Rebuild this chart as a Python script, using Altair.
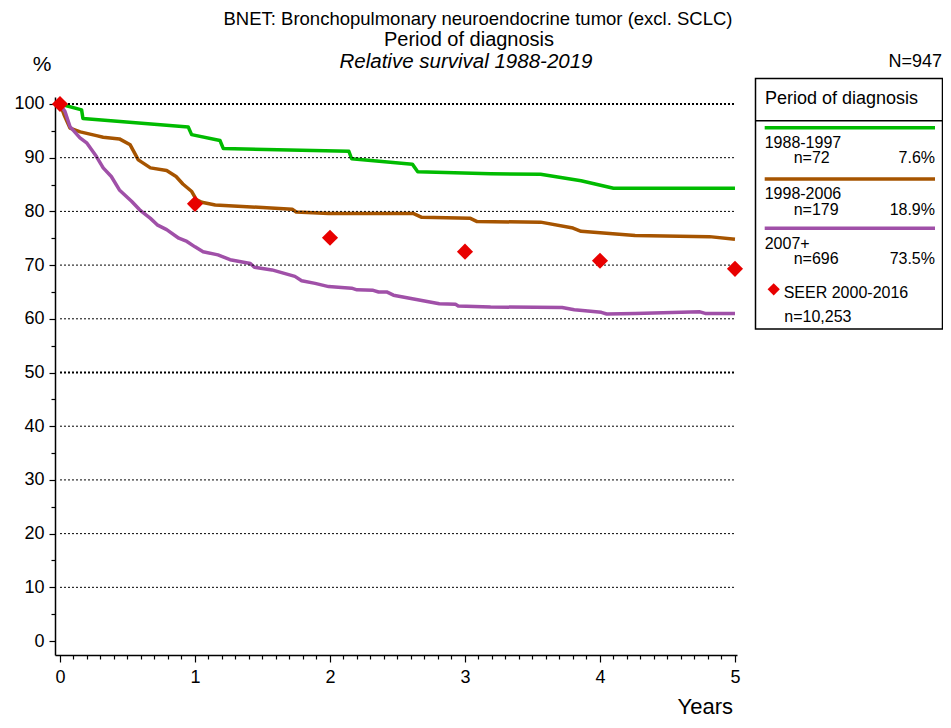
import altair as alt
import pandas as pd

FONT = "Liberation Sans"

# ---- data ----
series_names = ["1988-1997", "1998-2006", "2007+"]
series_colors = ["#00bb00", "#a65400", "#a050a8"]

g_x = [0, 0.16, 0.17, 0.95, 0.975, 1.185, 1.21, 2.14, 2.16, 2.61, 2.65, 3.19, 3.56, 3.86, 4.10, 5.0]
g_y = [100, 98.9, 97.3, 95.7, 94.3, 93.2, 91.7, 91.2, 89.8, 88.8, 87.4, 87.0, 86.9, 85.7, 84.3, 84.3]

b_x = [0, 0.03, 0.074, 0.15, 0.27, 0.32, 0.44, 0.52, 0.58, 0.67, 0.79, 0.86, 0.91, 0.976, 1.01, 1.05,
       1.15, 1.72, 1.75, 1.99, 2.62, 2.68, 3.04, 3.09, 3.56, 3.80, 3.86, 4.26, 4.81, 5.0]
b_y = [100, 98.0, 95.5, 94.8, 94.1, 93.8, 93.5, 92.4, 89.6, 88.1, 87.6, 86.5, 85.1, 83.7, 82.2, 81.7,
       81.2, 80.4, 79.9, 79.6, 79.6, 78.9, 78.7, 78.1, 78.0, 76.9, 76.3, 75.5, 75.3, 74.8]

p_x = [0, 0.037, 0.074, 0.148, 0.2, 0.27, 0.32, 0.38, 0.44, 0.53, 0.59, 0.67, 0.72, 0.79, 0.88, 0.94,
       1.0, 1.06, 1.17, 1.26, 1.41, 1.44, 1.57, 1.74, 1.79, 1.89, 1.99, 2.11, 2.16, 2.20, 2.32, 2.36,
       2.42, 2.47, 2.64, 2.81, 2.93, 2.95, 3.19, 3.72, 3.81, 4.01, 4.05, 4.26, 4.74, 4.78, 5.0]
p_y = [100, 98.6, 95.8, 93.7, 92.7, 90.2, 88.1, 86.5, 84.0, 81.9, 80.3, 78.7, 77.5, 76.6, 75.0, 74.4,
       73.4, 72.5, 71.9, 71.0, 70.3, 69.6, 69.1, 67.9, 67.1, 66.6, 66.0, 65.8, 65.7, 65.4, 65.3, 65.0,
       65.0, 64.4, 63.6, 62.8, 62.7, 62.4, 62.2, 62.1, 61.7, 61.2, 60.9, 61.0, 61.3, 61.0, 61.0]

seer_x = [0, 1, 2, 3, 4, 5]
seer_y = [100, 81.4, 75.1, 72.5, 70.8, 69.3]

grid_y = [10, 20, 30, 40, 50, 60, 70, 80, 90, 100]
y_ticks = list(range(0, 101, 5))
x_ticks = [round(i / 10, 1) for i in range(0, 51)]

legend_n = ["n=72", "n=179", "n=696"]
legend_pct = ["7.6%", "18.9%", "73.5%"]

# ---- tables ----
lines = pd.concat([
    pd.DataFrame({"x": g_x, "y": g_y, "s": series_names[0]}),
    pd.DataFrame({"x": b_x, "y": b_y, "s": series_names[1]}),
    pd.DataFrame({"x": p_x, "y": p_y, "s": series_names[2]}),
])
seer = pd.DataFrame({"x": seer_x, "y": seer_y})
grid = pd.DataFrame({"y": grid_y, "x": 0.0, "x2": 5.0,
                     "w": [2 if v in (50, 100) else 1 for v in grid_y]})

XS = alt.Scale(domain=[-0.037, 5.015], nice=False, zero=False)
YS = alt.Scale(domain=[-2.6, 101.3], nice=False, zero=False)

x_axis = alt.Axis(
    values=x_ticks, title=None, grid=False, domainColor="black", domainWidth=1.5,
    tickColor="black", tickWidth=1.2,
    tickSize={"condition": {"test": "abs(datum.value - round(datum.value)) < 0.001", "value": 7}, "value": 4},
    labelExpr="abs(datum.value - round(datum.value)) < 0.001 ? format(datum.value, 'd') : ''",
    labelOverlap=False, labelFlush=False, labelBound=False,
    labelFont=FONT, labelFontSize=18, labelColor="black", labelPadding=6,
)
y_axis = alt.Axis(
    values=y_ticks, title=None, grid=False, domainColor="black", domainWidth=1.5,
    tickColor="black", tickWidth=1.2,
    tickSize={"condition": {"test": "datum.value % 10 === 0", "value": 6}, "value": 4},
    labelExpr="datum.value % 10 === 0 ? datum.label : ''",
    labelOverlap=False, labelFlush=False, labelBound=False,
    labelFont=FONT, labelFontSize=18, labelColor="black", labelPadding=5,
)

curves = alt.Chart(lines).mark_line(strokeWidth=3.5, strokeJoin="round").encode(
    x=alt.X("x:Q", scale=XS, axis=x_axis),
    y=alt.Y("y:Q", scale=YS, axis=y_axis),
    color=alt.Color("s:N", scale=alt.Scale(domain=series_names, range=series_colors), legend=None),
    detail="s:N",
)

gridlines = alt.Chart(grid).mark_rule(color="black", strokeDash=[2, 2]).encode(
    x=alt.X("x:Q", scale=XS, axis=x_axis),
    x2="x2:Q",
    y=alt.Y("y:Q", scale=YS, axis=y_axis),
    strokeWidth=alt.StrokeWidth("w:Q", scale=None),
)

points = alt.Chart(seer).mark_point(shape="diamond", filled=True, color="#e80000", opacity=1, size=260).encode(
    x=alt.X("x:Q", scale=XS, axis=x_axis),
    y=alt.Y("y:Q", scale=YS, axis=y_axis),
)

# ---- annotations (pixel positions relative to the plot origin) ----
def txt(s, x, y, size=16, align="left", style="normal", baseline="middle"):
    return alt.Chart(alt.Data(values=[{"t": s}])).mark_text(
        align=align, baseline=baseline, fontSize=size, fontStyle=style, font=FONT, color="black"
    ).encode(x=alt.value(x), y=alt.value(y), text="t:N")

def hrule(x1, x2, y, color="black", width=1.5):
    return alt.Chart(alt.Data(values=[{"t": 0}])).mark_rule(color=color, strokeWidth=width).encode(
        x=alt.value(x1), x2=alt.value(x2), y=alt.value(y))

annots = [
    txt("BNET: Bronchopulmonary neuroendocrine tumor (excl. SCLC)", 423, -78, 18.5, "center"),
    txt("Period of diagnosis", 414, -57.5, 20, "center"),
    txt("Relative survival 1988-2019", 411, -35, 20.5, "center", "italic"),
    txt("%", -13, -32, 21, "center"),
    txt("N=947", 887, -35, 18, "right"),
    txt("Years", 678, 617, 22, "right", "normal", "alphabetic"),
]

DX = -3
box = alt.Chart(alt.Data(values=[{"t": 0}])).mark_rect(fill="white", stroke="black", strokeWidth=1.5).encode(
    x=alt.value(700.5), x2=alt.value(887.5), y=alt.value(-18.5), y2=alt.value(232))

legend = [box, hrule(700.5, 887.5, 23.7), txt("Period of diagnosis", 713 + DX, 1.5, 18)]
row_line_y = [30.7, 82, 131.3]
for i, name in enumerate(series_names):
    ly = row_line_y[i]
    legend.append(hrule(712.7 + DX, 880, ly, series_colors[i], 3.5))
    legend.append(txt(name, 712.7 + DX, ly + 15.3, 16))
    legend.append(txt(legend_n[i], 741.7 + DX, ly + 30.5, 16))
    legend.append(txt(legend_pct[i], 880, ly + 30.5, 16, "right"))

legend.append(alt.Chart(alt.Data(values=[{"t": 0}])).mark_point(
    shape="diamond", filled=True, color="#e80000", opacity=1, size=150).encode(
    x=alt.value(721.7 + DX), y=alt.value(192.3)))
legend.append(txt("SEER 2000-2016", 731.7 + DX, 195.7, 16))
legend.append(txt("n=10,253", 732.3 + DX, 220.3, 16))

chart = alt.layer(curves, gridlines, points, *annots, *legend).properties(
    width=682, height=558,
    autosize=alt.AutoSizeParams(type="none"),
    padding={"left": 47, "top": 89, "right": 206, "bottom": 65},
).configure_view(stroke=None)

chart.save("out.html", embed_options={"renderer": "svg", "actions": False})
